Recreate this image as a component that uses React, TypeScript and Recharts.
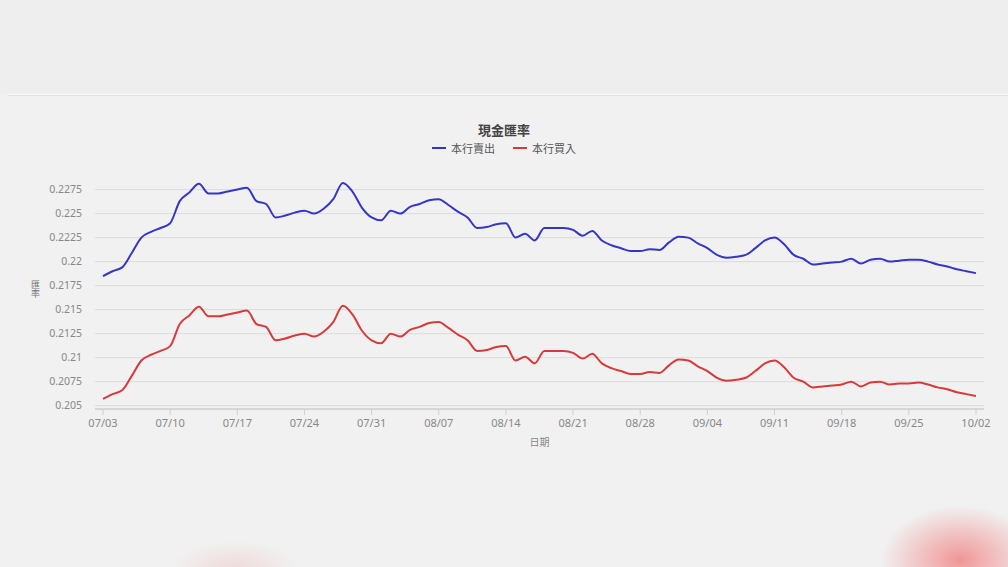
import React from 'react';
import { LineChart, Line, XAxis, YAxis, CartesianGrid } from 'recharts';

const dates: string[] = [
  '07/03','07/04','07/05','07/06','07/07','07/08','07/09','07/10','07/11','07/12','07/13','07/14','07/15','07/16',
  '07/17','07/18','07/19','07/20','07/21','07/22','07/23','07/24','07/25','07/26','07/27','07/28','07/29','07/30',
  '07/31','08/01','08/02','08/03','08/04','08/05','08/06','08/07','08/08','08/09','08/10','08/11','08/12','08/13',
  '08/14','08/15','08/16','08/17','08/18','08/19','08/20','08/21','08/22','08/23','08/24','08/25','08/26','08/27',
  '08/28','08/29','08/30','08/31','09/01','09/02','09/03','09/04','09/05','09/06','09/07','09/08','09/09','09/10',
  '09/11','09/12','09/13','09/14','09/15','09/16','09/17','09/18','09/19','09/20','09/21','09/22','09/23','09/24',
  '09/25','09/26','09/27','09/28','09/29','09/30','10/01','10/02',
];

const sellRates: number[] = [
  0.2185, 0.2190, 0.2194, 0.2209, 0.2225, 0.2231, 0.2235, 0.2240, 0.2263, 0.2272,
  0.2281, 0.2271, 0.2271, 0.2273, 0.2275, 0.2277, 0.2263, 0.2260, 0.2246, 0.2248,
  0.2251, 0.2253, 0.2250, 0.2255, 0.2265, 0.2282, 0.2273, 0.2256, 0.2246, 0.2243,
  0.2253, 0.2250, 0.2257, 0.2260, 0.2264, 0.2265, 0.2259, 0.2252, 0.2246, 0.2235,
  0.2236, 0.2239, 0.2240, 0.2225, 0.2229, 0.2222, 0.2235, 0.2235, 0.2235, 0.2233,
  0.2227, 0.2232, 0.2222, 0.2217, 0.2214, 0.2211, 0.2211, 0.2213, 0.2212, 0.2220,
  0.2226, 0.2225, 0.2219, 0.2214, 0.2207, 0.2204, 0.2205, 0.2207, 0.2214, 0.2222,
  0.2225, 0.2218, 0.2207, 0.2203, 0.2197, 0.2198, 0.2199, 0.2200, 0.2203, 0.2198,
  0.2202, 0.2203, 0.2200, 0.2201, 0.2202, 0.2202, 0.2200, 0.2197, 0.2195, 0.2192,
  0.2190, 0.2188,
];

const buyRates: number[] = [
  0.2057, 0.2062, 0.2066, 0.2081, 0.2097, 0.2103, 0.2107, 0.2112, 0.2135, 0.2144,
  0.2153, 0.2143, 0.2143, 0.2145, 0.2147, 0.2149, 0.2135, 0.2132, 0.2118, 0.2120,
  0.2123, 0.2125, 0.2122, 0.2127, 0.2137, 0.2154, 0.2145, 0.2128, 0.2118, 0.2115,
  0.2125, 0.2122, 0.2129, 0.2132, 0.2136, 0.2137, 0.2131, 0.2124, 0.2118, 0.2107,
  0.2108, 0.2111, 0.2112, 0.2097, 0.2101, 0.2094, 0.2107, 0.2107, 0.2107, 0.2105,
  0.2099, 0.2104, 0.2094, 0.2089, 0.2086, 0.2083, 0.2083, 0.2085, 0.2084, 0.2092,
  0.2098, 0.2097, 0.2091, 0.2086, 0.2079, 0.2076, 0.2077, 0.2079, 0.2086, 0.2094,
  0.2097, 0.2090, 0.2079, 0.2075, 0.2069, 0.2070, 0.2071, 0.2072, 0.2075, 0.2070,
  0.2074, 0.2075, 0.2072, 0.2073, 0.2073, 0.2074, 0.2072, 0.2069, 0.2067, 0.2064,
  0.2062, 0.2060,
];

const xTicks: string[] = ['07/03','07/10','07/17','07/24','07/31','08/07','08/14','08/21','08/28','09/04','09/11','09/18','09/25','10/02'];
const yTicks: number[] = [0.205, 0.2075, 0.21, 0.2125, 0.215, 0.2175, 0.22, 0.2225, 0.225, 0.2275];

const title = '現金匯率';
const sellName = '本行賣出';
const buyName = '本行買入';
const xLabel = '日期';
const yLabel = '匯率';

const BLUE = '#3636c6';
const RED = '#d83a3a';

const data = dates.map((d, i) => ({ date: d, sell: sellRates[i], buy: buyRates[i] }));

const FONT = '"Noto Sans CJK TC", "Noto Sans", sans-serif';

export default function App() {
  return (
    <div style={{ position: 'absolute', left: 0, top: 0, width: 1008, height: 567, background: '#f1f1f1', overflow: 'hidden' }}>
      <div style={{ position: 'absolute', left: 0, top: 0, width: 1008, height: 94, background: '#eeeeee' }} />
      <div style={{ position: 'absolute', left: 8, top: 94, width: 1000, height: 1, background: '#fafafa' }} />
      <div style={{ position: 'absolute', left: 8, top: 95, width: 1000, height: 1, background: '#e2e2e2' }} />
      <div style={{ position: 'absolute', left: 170, top: 540, width: 130, height: 60, borderRadius: '50%', background: 'radial-gradient(ellipse at center, rgba(240,170,170,0.35), rgba(241,241,241,0) 70%)' }} />
      <div style={{ position: 'absolute', left: 880, top: 505, width: 160, height: 110, borderRadius: '50%', background: 'radial-gradient(ellipse at center, rgba(240,120,120,0.75), rgba(241,241,241,0) 70%)' }} />
      <div style={{ position: 'absolute', left: 0, top: 120, width: 1008, textAlign: 'center', fontFamily: FONT, fontSize: 13, fontWeight: 'bold', color: '#444' }}>{title}</div>
      <div style={{ position: 'absolute', left: 0, top: 140, width: 1008, display: 'flex', justifyContent: 'center', alignItems: 'center', fontFamily: FONT, fontSize: 11, color: '#555' }}>
        <span style={{ display: 'inline-block', width: 14, height: 2, background: BLUE, marginRight: 5 }} />
        <span style={{ marginRight: 18 }}>{sellName}</span>
        <span style={{ display: 'inline-block', width: 14, height: 2, background: RED, marginRight: 5 }} />
        <span>{buyName}</span>
      </div>
      <div style={{ position: 'absolute', left: 30, top: 280, fontFamily: FONT, fontSize: 9, lineHeight: '10px', color: '#777', writingMode: 'vertical-rl', textOrientation: 'upright' }}>
        {yLabel}
      </div>
      <div style={{ position: 'absolute', left: 0, top: 0 }}>
        <LineChart width={1008} height={567} data={data} margin={{ top: 180, right: 24, bottom: 128, left: 0 }}>
          <CartesianGrid vertical={false} stroke="#dcdcdc" strokeWidth={1} horizontalValues={yTicks} />
          <XAxis
            dataKey="date"
            ticks={xTicks}
            interval={0}
            height={30}
            padding={{ left: 8, right: 8 }}
            axisLine={{ stroke: '#d6d6d6', strokeWidth: 2 }}
            tickLine={{ stroke: '#d0d0d0' }}
            tickSize={6}
            tickMargin={4}
            tick={{ fontFamily: '"Noto Sans", sans-serif', fontSize: 11, fill: '#888' }}
            label={{ value: xLabel, position: 'bottom', offset: 0, style: { fontFamily: FONT, fontSize: 10, fill: '#888' } }}
          />
          <YAxis
            width={95}
            type="number"
            domain={[0.20465, 0.2285]}
            ticks={yTicks}
            interval={0}
            axisLine={false}
            tickLine={false}
            tickSize={0}
            tickMargin={13}
            tickFormatter={(v: number) => String(v)}
            tick={{ fontFamily: '"Noto Sans", sans-serif', fontSize: 10.5, fill: '#888' }}
            allowDataOverflow
          />
          <Line type="monotone" dataKey="sell" name={sellName} stroke={BLUE} strokeWidth={2} dot={false} isAnimationActive={false} />
          <Line type="monotone" dataKey="buy" name={buyName} stroke={RED} strokeWidth={2} dot={false} isAnimationActive={false} />
        </LineChart>
      </div>
    </div>
  );
}
